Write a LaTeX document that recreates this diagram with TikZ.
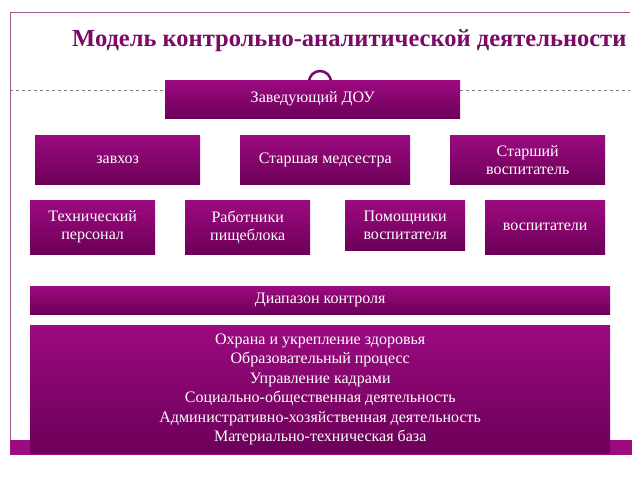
\documentclass[tikz,border=0pt]{standalone}
\usepackage{fontspec}
\setmainfont{Liberation Serif}
\usetikzlibrary{positioning}
\definecolor{mtop}{HTML}{9C0A80}
\definecolor{mbot}{HTML}{6C0058}
\definecolor{mband}{HTML}{9E0A80}
\definecolor{mtitle}{HTML}{7A0A66}
\definecolor{mframe}{HTML}{9A5A90}
\tikzset{
  pbox/.style={top color=mtop, bottom color=mbot, text=white, align=center,
    font=\fontsize{16}{18}\selectfont, inner sep=0pt, anchor=north west},
}
\begin{document}
\begin{tikzpicture}[x=1pt,y=-1pt]
  \useasboundingbox (0,0) rectangle (640,480);
  % frame
  \draw[mframe, line width=0.8pt] (10,440) -- (10,12) -- (630,12);
  \draw[gray, dashed, line width=0.4pt] (10,90) -- (630,90);
  \draw[mtitle, line width=2.5pt] (309,82) arc (180:360:11);
  \fill[mband] (10,440) rectangle (632,455);
  \node[text=mtitle, font=\fontsize{24.5}{26}\selectfont\bfseries, anchor=west, inner sep=0pt] (title) at (72,41) {Модель контрольно-аналитической деятельности};
  % top
  \node[pbox, minimum width=295, minimum height=38] (head) at (165,80) {Заведующий ДОУ};
  % second row
  \node[pbox, minimum width=165, minimum height=49] (zavhoz) at (35,135) {завхоз};
  \node[pbox, minimum width=170, minimum height=49] (med) at (240,135) {Старшая медсестра};
  \node[pbox, minimum width=155, minimum height=49] (vosp) at (450,135) {Старший\\воспитатель};
  % third row
  \node[pbox, minimum width=125, minimum height=54] (tech) at (30,200) {Технический\\персонал};
  \node[pbox, minimum width=125, minimum height=54] (pish) at (185,200) {Работники\\пищеблока};
  \node[pbox, minimum width=120, minimum height=50] (pom) at (345,200) {Помощники\\воспитателя};
  \node[pbox, minimum width=120, minimum height=54] (vosps) at (485,200) {воспитатели};
  % bottom
  \node[pbox, minimum width=580, minimum height=28] (range) at (30,286) {Диапазон контроля};
  \node[pbox, minimum width=580, minimum height=128, font=\fontsize{16}{19.5}\selectfont] (list) at (30,325)
    {Охрана и укрепление здоровья\\Образовательный процесс\\Управление кадрами\\Социально-общественная деятельность\\Административно-хозяйственная деятельность\\Материально-техническая база};
\end{tikzpicture}
\end{document}
